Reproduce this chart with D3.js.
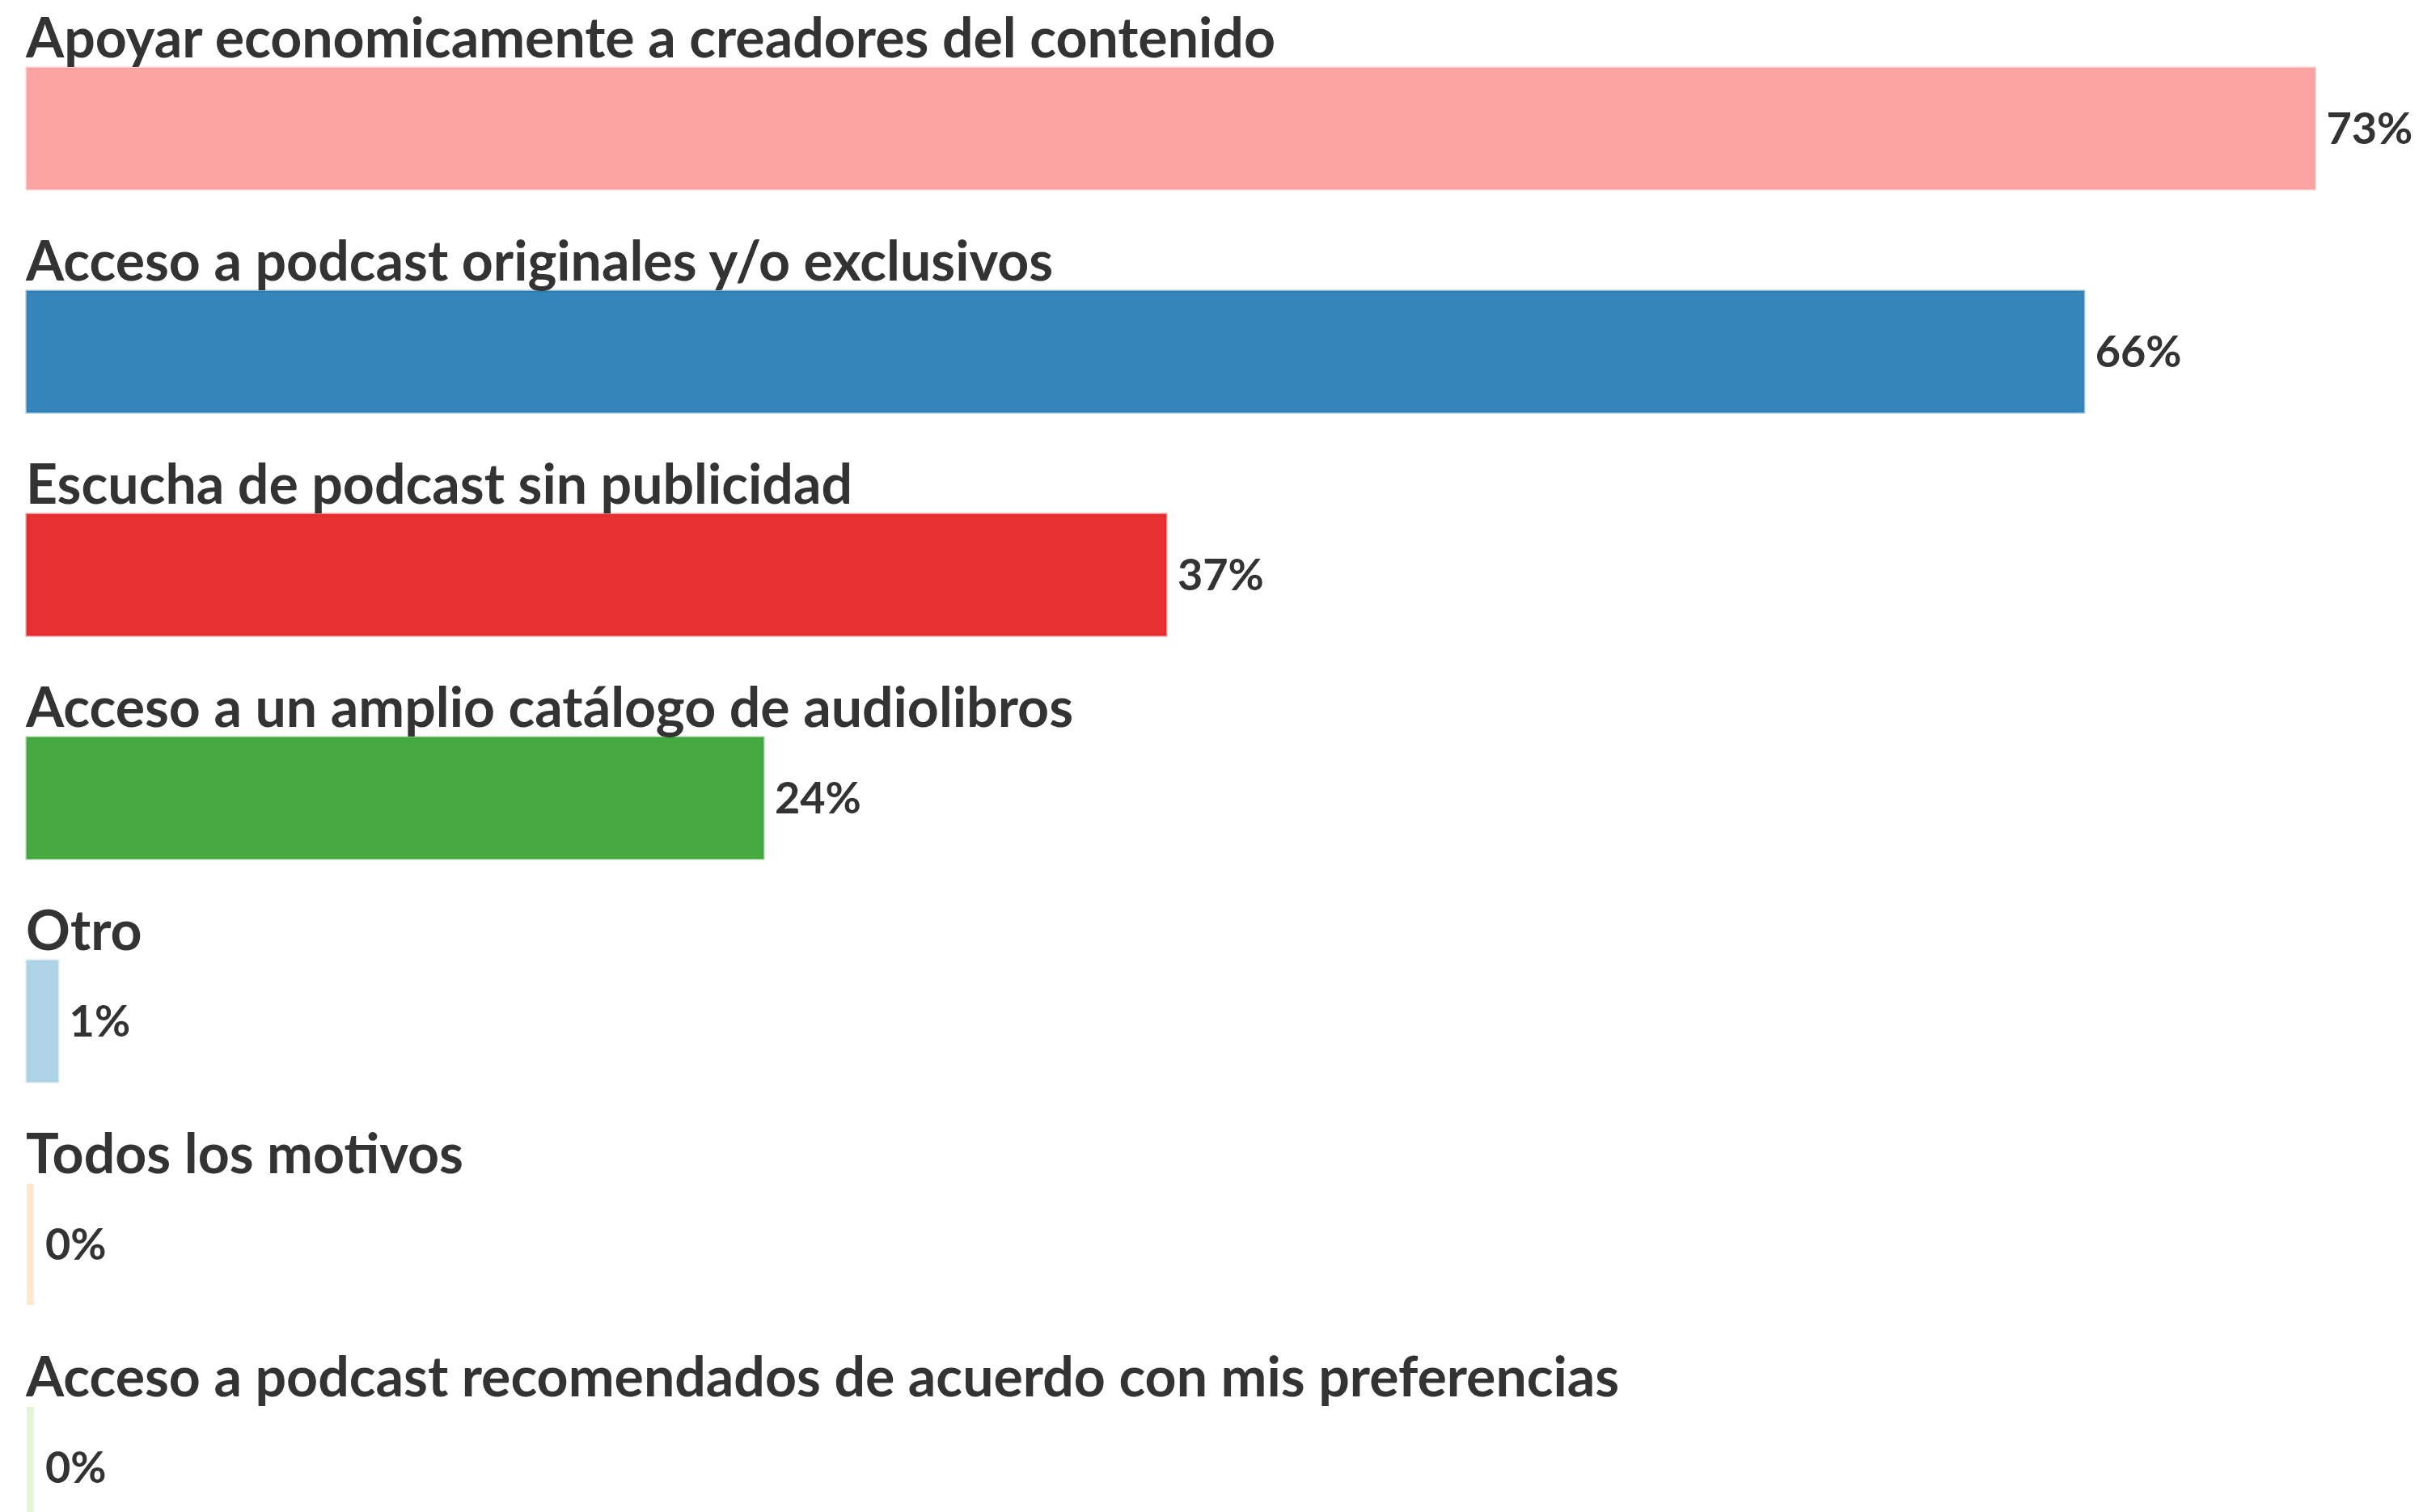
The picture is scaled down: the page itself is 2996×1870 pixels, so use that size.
<!DOCTYPE html>
<html>
<head>
<meta charset="utf-8">
<script src="https://cdn.jsdelivr.net/npm/d3@7"></script>
<style>
  html, body { margin: 0; padding: 0; background: #fff; }
  svg { display: block; }
  .label { font-family: "Source Sans Pro", Lato, sans-serif; font-weight: 700; fill: #333; }
  .value { font-family: "Source Sans Pro", Lato, sans-serif; font-weight: 700; fill: #333; }
</style>
</head>
<body>
<div id="chart"></div>
<script>
const categories = [
  'Apoyar economicamente a creadores del contenido',
  'Acceso a podcast originales y/o exclusivos',
  'Escucha de podcast sin publicidad',
  'Acceso a un amplio catálogo de audiolibros',
  'Otro',
  'Todos los motivos',
  'Acceso a podcast recomendados de acuerdo con mis preferencias'
];
const values = [73.3, 65.9, 36.5, 23.6, 1.0, 0, 0];
const colors = ['#fb9a99', '#1f78b4', '#e31a1c', '#33a02c', '#a6cee3', '#fdbf6f', '#b2df8a'];

const width = 2996;
const height = 1870;
const margin = { top: 84, left: 33 };
const minBar = 9;

const svg = d3.select('#chart')
  .append('svg')
  .attr('width', width)
  .attr('height', height);

const x = d3.scaleLinear()
  .domain([0, 100])
  .range([margin.left, margin.left + 3860]);

const y = d3.scaleBand()
  .domain(categories)
  .range([margin.top, margin.top + 6 * 276 + 150])
  .paddingInner(0.4565)
  .paddingOuter(0)
  .align(0);

const barW = v => Math.max(x(v) - x(0), minBar);

const rows = svg.selectAll('g.row')
  .data(categories)
  .enter()
  .append('g')
  .attr('class', 'row');

rows.append('rect')
  .attr('x', x(0))
  .attr('y', d => y(d))
  .attr('width', (d, i) => barW(values[i]))
  .attr('height', y.bandwidth())
  .attr('fill', (d, i) => colors[i])
  .attr('fill-opacity', (d, i) => values[i] > 0 ? 0.9 : 0.35)
  .attr('stroke', (d, i) => values[i] > 0 ? colors[i] : 'none')
  .attr('stroke-opacity', 0.5)
  .attr('stroke-width', 3);

rows.append('text')
  .attr('class', 'label')
  .attr('x', x(0) - 1)
  .attr('y', d => y(d) - 13)
  .attr('font-size', 68)
  .text(d => d);

rows.append('text')
  .attr('class', 'value')
  .attr('x', (d, i) => x(0) + barW(values[i]) + 14)
  .attr('y', d => y(d) + y.bandwidth() / 2)
  .attr('dy', '0.35em')
  .attr('font-size', 54)
  .text((d, i) => Math.round(values[i]) + '%');
</script>
</body>
</html>
